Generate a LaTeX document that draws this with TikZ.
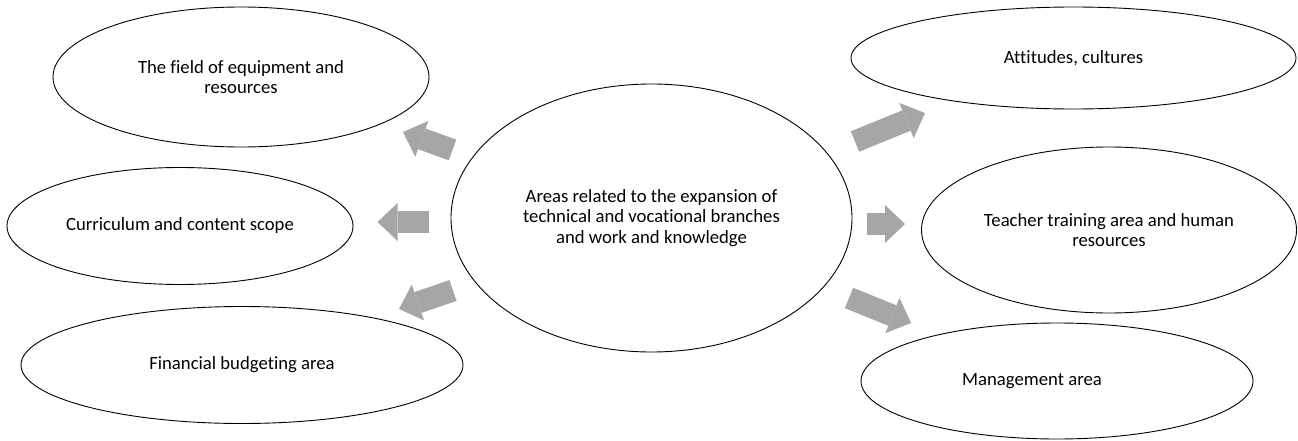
\documentclass[tikz,border=0pt]{standalone}
\usepackage{fontspec}
\setmainfont{Carlito}[Ligatures=NoCommon]
\usetikzlibrary{shapes.geometric,arrows.meta}
\definecolor{arrowgray}{RGB}{166,166,166}
\begin{document}
\begin{tikzpicture}[x=1pt,y=-1pt,
  area/.style={ellipse,draw,line width=0.9pt,inner sep=0pt,align=center,
    font=\fontsize{18.7}{20.8}\selectfont},
  blockarrow/.style={draw=arrowgray,line width=22pt,
    -{Triangle[width=38pt,length=20pt,line width=0pt]}}]
\useasboundingbox (0,0) rectangle (1298,441);
% centre
\node[area,minimum width=401pt,minimum height=268pt] (c) at (651.5,218)
  {Areas related to the expansion of\\technical and vocational branches\\and work and knowledge};
% left
\node[area,minimum width=376pt,minimum height=140pt] (e1) at (241,77)
  {The field of equipment and\\resources};
\node[area,minimum width=346pt,minimum height=117pt] (e2) at (180,226)
  {Curriculum and content scope};
\node[area,minimum width=442pt,minimum height=117pt] (e3) at (242,365)
  {Financial budgeting area};
% right
\node[area,minimum width=445pt,minimum height=102pt] (e4) at (1073.5,58)
  {Attitudes, cultures};
\node[area,minimum width=375pt,minimum height=166pt] (e5) at (1109,230)
  {Teacher training area and human\\resources};
\node[area,minimum width=392pt,minimum height=116pt] (e6) at (1057,381)
  {Management area\hspace*{50pt}};
% arrow ends
\coordinate (t1) at (452.5,150); \coordinate (h1) at (403,132);
\coordinate (t2) at (429,222);   \coordinate (h2) at (377.5,222);
\coordinate (t3) at (453,290.5); \coordinate (h3) at (399,309);
\coordinate (t4) at (855,141.5); \coordinate (h4) at (925,113);
\coordinate (t5) at (867,224);   \coordinate (h5) at (905,224);
\coordinate (t6) at (849,298);   \coordinate (h6) at (911,323);
\draw[blockarrow] (t1) -- (h1);
\draw[blockarrow] (t2) -- (h2);
\draw[blockarrow] (t3) -- (h3);
\draw[blockarrow] (t4) -- (h4);
\draw[blockarrow] (t5) -- (h5);
\draw[blockarrow] (t6) -- (h6);
\end{tikzpicture}
\end{document}
